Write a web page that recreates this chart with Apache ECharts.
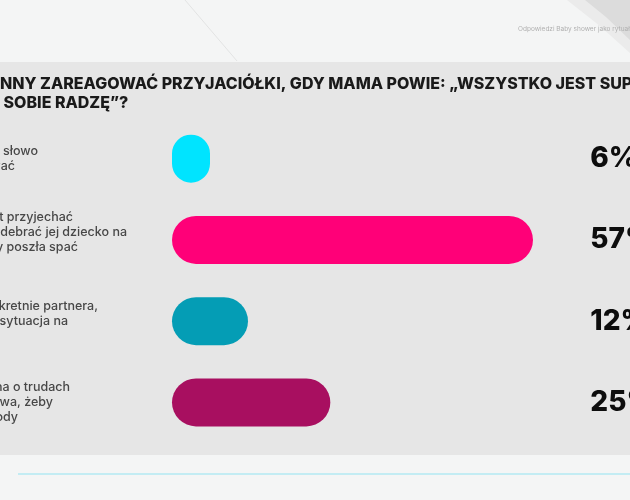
<!DOCTYPE html>
<html>
<head>
    <meta charset="utf-8" />
    <title>Baby shower - odpowiedzi</title>
    <style>
        html, body { margin: 0; padding: 0; background: #f4f5f5; }
        #chart { width: 630px; height: 500px; }
    </style>
</head>
<body>
    <div id="chart"></div>
    <script src="https://cdn.jsdelivr.net/npm/echarts@6/dist/echarts.min.js"></script>
    <script type="text/javascript">
        // widoczne fragmenty odpowiedzi, linia po linii
        var answers = [
            ['a słowo', 'wać'],
            ['t przyjechać', 'odebrać jej dziecko na', 'y poszła spać', ''],
            ['kretnie partnera,', ' sytuacja na', ''],
            ['na o trudach', 'zwa, żeby', 'ody']
        ];
        var values = [6, 57, 12, 25];
        var barColors = ['#00e4ff', '#ff0078', '#049db5', '#a80f60'];
        var titleLines = ['NNY ZAREAGOWAĆ PRZYJACIÓŁKI, GDY MAMA POWIE: „WSZYSTKO JEST SUPER,', ' SOBIE RADZĘ”?'];
        var sourceText = 'Odpowiedzi Baby shower jako rytuał przejścia';

        // gdzie kończy się każda linia etykiety (px od lewej)
        var lineEnds = [[38, 15], [73, 127, 78, 0], [98, 68, 0], [70, 53, 18]];
        var axisX = 172;

        var labelFont = { fontFamily: 'Inter', fontWeight: 500, fontSize: 12.5, lineHeight: 15, color: '#474747' };
        var rich = {};
        answers.forEach(function (lines, i) {
            lines.forEach(function (t, j) {
                rich['r' + i + '_' + j] = Object.assign({
                    align: 'right',
                    padding: [0, axisX - lineEnds[i][j], 0, 0]
                }, labelFont);
            });
        });

        var myChart = echarts.init(document.getElementById('chart'));

        var option = {
            backgroundColor: '#f4f5f5',
            animation: false,
            title: {
                text: titleLines.join('\n'),
                left: 0,
                top: 75,
                padding: 0,
                textStyle: {
                    fontFamily: 'Inter',
                    fontWeight: 800,
                    fontSize: 16,
                    lineHeight: 19,
                    color: '#1a1a1a'
                }
            },
            graphic: [
                { type: 'rect', z: -10, shape: { x: 0, y: 62, width: 630, height: 393 }, style: { fill: '#e6e6e6' } },
                { type: 'line', z: -10, shape: { x1: 185, y1: 0, x2: 237, y2: 61 }, style: { stroke: '#e2e3e3', lineWidth: 1 } },
                { type: 'polygon', z: -10, shape: { points: [[567, 0], [630, 0], [630, 53], [600, 26]] }, style: { fill: '#ebebeb' } },
                { type: 'polygon', z: -9, shape: { points: [[585, 0], [630, 0], [630, 40], [606, 17]] }, style: { fill: '#dcdcdc' } },
                { type: 'line', z: -10, shape: { x1: 18, y1: 474, x2: 630, y2: 474 }, style: { stroke: '#b3e9f2', lineWidth: 1.5 } },
                {
                    type: 'text', z: -8, x: 518, y: 29,
                    style: { text: sourceText, fill: '#b0b0b0', font: '6.5px Inter', verticalAlign: 'middle' }
                }
            ],
            grid: {
                left: axisX,
                top: 118,
                width: 443.3,
                height: 325,
                containLabel: false,
                outerBoundsMode: 'none'
            },
            xAxis: {
                type: 'value',
                min: 0,
                max: 70,
                show: false
            },
            yAxis: [
                {
                    type: 'category',
                    inverse: true,
                    z: 5,
                    data: answers.map(function (a) { return a.join(' '); }),
                    axisLine: { show: false },
                    axisTick: { show: false },
                    axisLabel: {
                        interval: 0,
                        margin: 0,
                        align: 'right',
                        rich: rich,
                        formatter: function (value, idx) {
                            return answers[idx].map(function (t, j) {
                                return '{r' + idx + '_' + j + '|' + (t || ' ') + '}';
                            }).join('\n');
                        }
                    }
                },
                {
                    type: 'category',
                    inverse: true,
                    position: 'right',
                    z: 5,
                    data: values.map(function (v) { return v + '%'; }),
                    axisLine: { show: false },
                    axisTick: { show: false },
                    axisLabel: {
                        interval: 0,
                        margin: -25,
                        align: 'left',
                        fontFamily: 'Inter',
                        fontWeight: 800,
                        fontSize: 28,
                        color: '#0d0d0d'
                    }
                }
            ],
            series: [
                {
                    name: 'Odpowiedzi',
                    type: 'bar',
                    yAxisIndex: 0,
                    barWidth: 48,
                    itemStyle: { borderRadius: 24 },
                    data: values.map(function (v, i) {
                        return { value: v, itemStyle: { color: barColors[i] } };
                    })
                }
            ]
        };

        myChart.setOption(option);
    </script>
</body>
</html>
